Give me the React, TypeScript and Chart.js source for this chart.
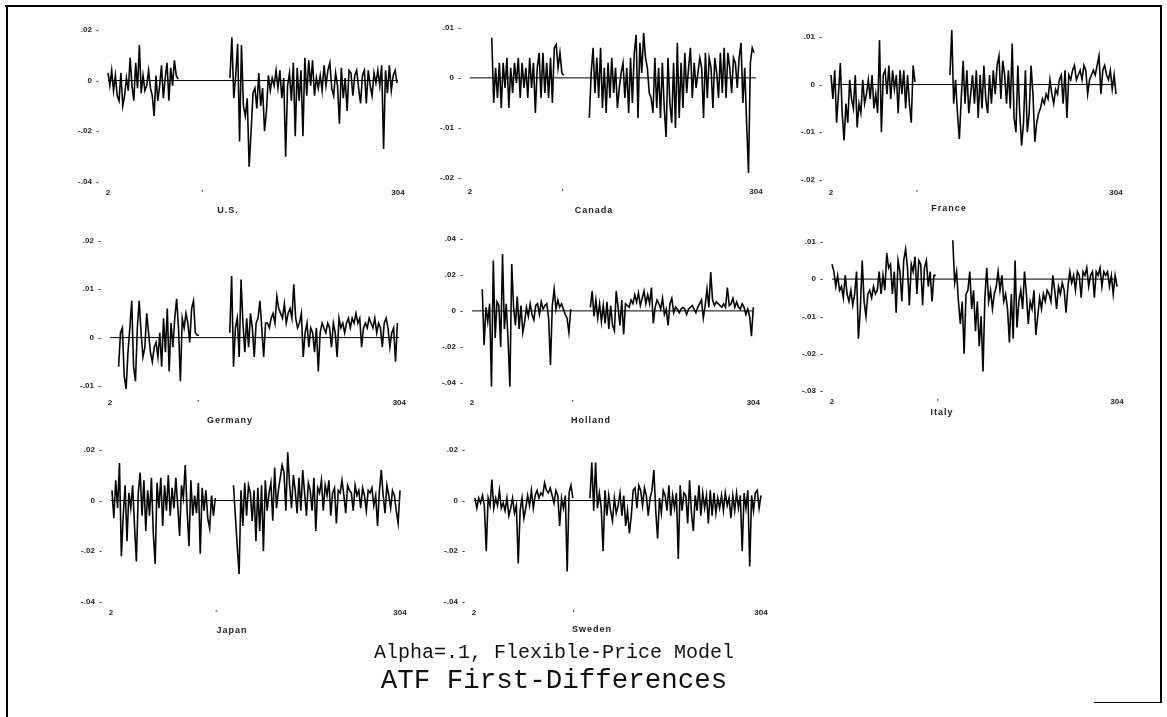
import React, { useEffect, useRef } from "react";
import { Chart, registerables } from "chart.js";

Chart.register(...registerables);

// ---- data ----
const usA = [.003,-.002,.004,-.004,.002,-.006,-.008,.003,-.010,-.006,.001,-.004,.009,-.002,-.008,.007,-.003,.014,-.005,.002,-.004,-.002,.004,-.003,-.006,-.014,.002,-.008,-.002,.006,-.007,.001,.007,-.008,.005,-.002,.008,.002,.0005];
const usB = [.001,.017,-.007,.002,.0145,-.024,.014,-.010,-.014,-.007,-.034,-.020,-.005,-.003,-.011,.003,-.010,-.003,-.020,-.012,.002,-.004,.001,-.002,.004,-.003,.004,-.007,.001,-.030,-.002,.003,-.008,.007,-.022,.005,-.008,.004,-.022,.009,-.006,.008,-.002,.008,-.006,.001,-.003,.002,-.004,.006,-.002,.004,.007,-.003,-.006,.003,-.002,-.017,.005,-.007,.001,-.012,.004,.003,-.006,.002,.004,-.003,-.009,.002,.004,-.009,.004,-.002,-.006,.003,-.001,.004,-.002,.006,-.027,.004,-.005,.006,-.004,.002,.004,-.001];

const canA = [.008,-.005,.002,-.004,.003,-.006,.003,-.002,.004,-.006,.002,-.003,.003,-.001,.004,-.004,.003,-.002,.002,-.004,.004,-.002,.003,-.007,.002,.005,-.004,.005,-.003,.003,-.004,.004,-.005,.006,.0066,.002,.005,.001,.0005];
const canB = [-.008,.001,.006,-.003,.004,-.004,.006,-.006,.002,-.007,.003,-.004,.004,-.003,.002,-.006,-.002,.001,.003,-.004,.002,-.007,.004,-.005,.005,.0086,-.008,.007,.001,.009,.004,.002,-.003,-.004,-.007,.004,-.006,.002,-.008,.003,-.006,-.0118,.004,-.005,-.009,.003,-.010,.007,-.008,.003,-.006,.005,-.003,.002,.006,-.004,.003,-.002,.001,.004,.002,-.008,.005,-.004,.004,.002,-.006,.004,.001,-.004,.005,-.003,.006,-.004,.005,.002,-.003,.004,.003,-.002,.004,.007,-.005,.002,-.009,-.019,.003,.006,.005];

const fraA = [.002,-.003,.003,-.008,-.002,.0045,-.006,-.0117,-.004,-.008,.001,-.003,-.005,.002,-.009,-.004,-.006,.001,-.004,-.002,.001,-.003,.002,-.005,-.002,-.006,.0093,-.010,.002,.003,-.002,.004,-.003,.003,-.001,.002,-.006,.003,-.002,.003,-.005,.002,-.004,-.008,.004,.0005];
const fraB = [.002,.0114,-.004,.001,-.006,-.0114,-.003,.005,-.004,.003,-.006,-.002,.002,-.004,.003,-.007,.002,-.005,.004,-.003,-.006,.002,-.004,.003,-.002,.004,.006,-.003,.005,.002,-.004,.003,-.005,.0086,-.007,-.010,.004,-.006,-.0128,-.008,.003,-.010,-.006,.004,-.002,-.012,-.008,-.006,-.005,-.003,-.004,-.002,-.003,.001,-.002,-.004,-.001,-.002,.001,.002,-.004,.003,-.007,.002,.001,.003,.004,.001,.002,.003,.001,.004,.003,-.002,.001,.002,.003,.002,.004,.006,-.002,.003,.004,.002,.001,.003,-.001,.002,-.002];

const gerA = [-.006,.001,.002,-.008,-.0106,-.003,.002,.0076,-.006,-.009,.002,.0076,.001,-.004,-.002,.005,.001,-.003,-.005,-.002,-.001,-.004,.001,-.006,.004,-.003,.006,-.007,.003,-.002,.004,.008,.002,-.009,.004,.002,.005,.003,-.001,.006,.0076,.001,.0005,.0005];
const gerB = [.001,.0127,-.006,.002,.004,-.004,.012,.003,-.003,.004,-.002,.005,.002,-.004,.003,.004,.0076,.002,-.004,.003,.003,.002,.004,.005,.003,.0085,.006,.005,.004,.007,.003,.005,.006,.004,.011,.004,.002,.003,.005,-.004,.001,.003,-.002,.002,.001,-.003,.002,-.007,.001,.003,.002,.001,.003,.002,-.002,.003,.001,-.004,.004,.002,.003,.001,.003,.004,.002,.004,.003,.005,.003,.004,-.002,.002,.003,.002,.004,.003,.002,.004,.001,.003,.002,-.002,.003,.004,.002,-.002,.001,.002,-.005,.003];

const holA = [.012,-.019,.002,-.006,.004,-.042,.028,-.015,.005,.003,-.020,.0316,-.010,.004,-.016,-.042,.026,.002,-.008,.008,-.010,.003,-.012,-.006,.002,-.003,.004,-.002,-.005,.003,.004,-.002,.005,.001,.003,.004,-.004,-.030,.003,.012,.001,.006,.002,.004,.001,-.002,-.004,-.012,.001];
const holB = [.002,.011,-.003,.006,-.004,.004,-.006,.003,-.007,.005,-.010,.003,-.008,-.011,.011,.002,-.008,.006,-.013,.004,.003,.002,.006,.004,.009,.005,.010,.003,.007,.011,.004,.009,.004,.013,-.007,.002,.006,.004,.001,.007,-.002,.001,-.008,.004,.007,-.001,.002,.001,-.001,.001,.002,.001,-.002,.001,.002,.003,.001,-.001,.002,.004,.006,-.004,.003,.012,.002,.0215,.006,.003,.005,.004,.003,.002,.004,.002,.013,.003,.004,.007,.002,.005,.002,.001,.004,.002,-.002,.001,-.003,-.014,.002];

const itaA = [.004,.002,-.002,.001,-.003,-.002,-.005,.001,-.004,-.006,-.003,-.007,-.004,.002,-.016,-.008,.005,-.006,-.010,-.004,-.003,-.005,-.002,-.004,-.003,.002,-.004,.001,-.003,.007,.003,.004,-.004,.002,-.009,.005,.002,-.006,.005,.008,.003,-.007,.004,.002,.006,-.004,.005,.004,-.007,.003,.005,-.002,.002,-.006,.001,.001];
const itaB = [.0104,-.001,.002,-.006,-.012,-.006,-.020,-.004,-.003,.002,-.008,-.003,-.014,-.006,-.018,-.010,-.0248,-.005,.003,-.006,-.003,-.008,-.004,-.002,.002,-.003,.001,-.006,-.004,-.008,-.017,-.004,-.016,.005,-.013,-.006,-.003,-.008,.002,-.004,-.012,-.006,-.008,-.003,-.015,-.010,-.005,-.008,-.004,-.006,-.003,-.004,-.006,.001,-.003,-.008,-.002,-.004,-.001,-.003,-.009,-.002,.002,-.001,.001,-.003,.002,.001,-.005,.002,.001,.003,-.002,.001,.002,-.005,.002,.001,.003,-.002,.002,.001,.002,-.002,.001,-.004,.001,-.002];

const japA = [.004,-.007,.008,-.003,.0148,-.022,-.006,.006,-.016,.003,-.003,.006,-.010,-.024,.003,.011,-.006,.008,-.012,.004,-.006,.009,-.013,-.025,.007,-.003,.009,-.010,.006,-.004,.010,-.006,.005,-.003,.009,-.002,-.014,.006,.001,.014,-.004,-.018,.008,-.006,.002,-.005,.007,-.021,.005,-.004,.004,-.007,-.011,.002,-.006,.001];
const japB = [.006,-.006,-.018,-.029,.004,-.010,.007,-.006,.006,.003,-.008,.004,-.016,.005,-.012,.006,-.020,.008,-.004,.003,.007,-.008,.013,-.003,.004,.009,.014,.011,-.004,.019,.006,-.003,.010,.004,-.005,.009,-.004,.012,.003,-.006,.007,.004,-.004,.009,-.012,.005,.003,.008,-.004,.006,.002,.008,-.006,.003,.005,-.009,.004,.003,.008,.002,-.005,.006,.004,.003,-.004,.006,.002,.004,-.003,.005,.002,-.004,.004,.003,.005,-.002,.002,-.010,.004,.012,.002,-.005,.006,.002,-.003,.004,.002,-.004,-.009,.004];

const sweA = [.001,-.003,.001,-.001,.002,-.002,-.020,.001,-.002,.0083,-.003,.001,-.002,.004,-.003,-.001,-.004,.001,-.006,-.003,.001,-.005,-.002,-.0248,-.004,.001,-.007,-.003,.002,-.002,.004,-.003,.002,.004,.001,.003,.002,.007,.004,.003,.005,.002,-.001,.004,.002,-.010,.001,-.003,.002,-.028,.003,.006,.001];
const sweB = [.001,.015,-.004,.015,-.003,.003,-.003,-.020,.004,-.006,.002,-.004,-.008,.001,-.005,-.002,.003,-.006,.002,-.010,-.004,-.013,-.006,.004,.005,-.003,.006,.004,-.002,.005,.002,-.006,.001,.004,.012,-.004,-.015,.001,-.005,.004,.002,-.004,.006,-.006,.002,-.003,.003,-.023,.006,-.004,.003,.002,-.009,.008,-.005,-.012,.002,-.004,.006,-.006,.003,-.003,.002,-.009,.004,-.006,.003,-.005,.001,-.003,.002,-.004,.003,-.002,.001,-.007,.002,-.004,.003,-.003,.002,-.020,.003,-.003,.004,-.026,.002,-.004,.003,.004,-.003,.002];

// tick values / labels
const ticksUS = [.02, 0, -.02, -.04];
const ticksCanada = [.01, 0, -.01, -.02];
const ticksFrance = [.01, 0, -.01, -.02];
const ticksGermany = [.02, .01, 0, -.01];
const ticksHolland = [.04, .02, 0, -.02, -.04];
const ticksItaly = [.01, 0, -.01, -.02, -.03];
const ticksJapan = [.02, 0, -.02, -.04];
const ticksSweden = [.02, 0, -.02, -.04];
const xFirst = 2;
const xLast = 304;
const xTickLabels = ["2", "'", "304"];

const panelNames = ["U.S.", "Canada", "France", "Germany", "Holland", "Italy", "Japan", "Sweden"];

// ---- layout (pixels) ----
type Seg = { start: number; end: number; values: number[] };
type Panel = {
  name: string; L: number; R: number; T: number; B: number;
  yTicks: number[]; mid: number; segs: Seg[]; tx: number; ty: number; xPad: number;
};

const panels: Panel[] = [
  { name: panelNames[0], L: 108, R: 398, T: 27.5, B: 182, yTicks: ticksUS, mid: 100, segs: [{ start: 2, end: 75, values: usA }, { start: 129, end: 303, values: usB }], tx: 228, ty: 210, xPad: 6 },
  { name: panelNames[1], L: 470, R: 756, T: 26, B: 178, yTicks: ticksCanada, mid: 100, segs: [{ start: 25, end: 101, values: canA }, { start: 128, end: 302, values: canB }], tx: 594, ty: 210, xPad: 9 },
  { name: panelNames[2], L: 831, R: 1116, T: 35, B: 180, yTicks: ticksFrance, mid: 93, segs: [{ start: 2, end: 91, values: fraA }, { start: 128, end: 304, values: fraB }], tx: 949, ty: 208, xPad: 8 },
  { name: panelNames[3], L: 110, R: 400, T: 239, B: 386, yTicks: ticksGermany, mid: 94, segs: [{ start: 11, end: 95, values: gerA }, { start: 127, end: 302, values: gerB }], tx: 230, ty: 420, xPad: 12 },
  { name: panelNames[4], L: 472, R: 757, T: 237, B: 383, yTicks: ticksHolland, mid: 110, segs: [{ start: 13, end: 108, values: holA }, { start: 129, end: 304, values: holB }], tx: 591, ty: 420, xPad: 15 },
  { name: panelNames[5], L: 832, R: 1117, T: 240, B: 391, yTicks: ticksItaly, mid: 114, segs: [{ start: 2, end: 112, values: itaA }, { start: 130, end: 304, values: itaB }], tx: 942, ty: 412, xPad: 6 },
  { name: panelNames[6], L: 111, R: 400, T: 448, B: 602, yTicks: ticksJapan, mid: 112, segs: [{ start: 3, end: 111, values: japA }, { start: 130, end: 304, values: japB }], tx: 232, ty: 630, xPad: 6 },
  { name: panelNames[7], L: 474, R: 761, T: 447.5, B: 601.5, yTicks: ticksSweden, mid: 107, segs: [{ start: 3, end: 106, values: sweA }, { start: 124, end: 304, values: sweB }], tx: 592, ty: 629, xPad: 6 },
];

const YW = 70;
const PT = 12;
const PR = 18;
const XH = 30;
const tickFont = { family: "'Liberation Sans', Arial, sans-serif", size: 8, weight: "bold" as const };

function fmt(v: number): string {
  if (v === 0) return "0";
  const s = String(Math.abs(v)).replace(/^0/, "");
  return (v < 0 ? "-" : "") + s;
}

function PanelChart({ p }: { p: Panel }) {
  const ref = useRef<HTMLCanvasElement>(null);
  const w = YW + (p.R - p.L) + PR;
  const h = PT + (p.B - p.T) + XH;
  useEffect(() => {
    if (!ref.current) return;
    const xt = [xFirst, p.mid, xLast];
    const datasets: any[] = [
      {
        data: [{ x: xFirst, y: 0 }, { x: xLast, y: 0 }],
        borderColor: "#000", borderWidth: 1, pointRadius: 0, clip: false,
      },
      ...p.segs.map((s) => ({
        data: s.values.map((v, i) => ({ x: s.start + (i * (s.end - s.start)) / (s.values.length - 1), y: v })),
        borderColor: "#050505", borderWidth: 1.6, pointRadius: 0, clip: false, tension: 0,
      })),
    ];
    const chart = new Chart(ref.current, {
      type: "line",
      data: { datasets },
      options: {
        animation: false,
        responsive: false,
        maintainAspectRatio: false,
        events: [],
        layout: { padding: { top: PT, right: PR, left: 0, bottom: 0 } },
        plugins: { legend: { display: false }, tooltip: { enabled: false }, title: { display: false } },
        scales: {
          x: {
            type: "linear", min: xFirst, max: xLast,
            grid: { display: false, drawTicks: false }, border: { display: false },
            afterBuildTicks: (s: any) => { s.ticks = xt.map((v) => ({ value: v })); },
            afterFit: (s: any) => { s.height = XH; },
            ticks: {
              autoSkip: false, maxRotation: 0, padding: p.xPad, color: "#222", font: tickFont,
              callback: (_v: any, i: number) => xTickLabels[i],
            },
          },
          y: {
            type: "linear", min: p.yTicks[p.yTicks.length - 1], max: p.yTicks[0],
            grid: { display: false, drawTicks: false }, border: { display: false },
            afterBuildTicks: (s: any) => { s.ticks = p.yTicks.map((v) => ({ value: v })); },
            afterFit: (s: any) => { s.width = YW; },
            ticks: {
              autoSkip: false, padding: 9, color: "#222", font: tickFont,
              callback: (v: any) => fmt(Number(v)) + "  -",
            },
          },
        },
      } as any,
    });
    return () => chart.destroy();
  }, []);
  return (
    <canvas
      ref={ref}
      width={w}
      height={h}
      style={{ position: "absolute", left: p.L - YW, top: p.T - PT, width: w, height: h }}
    />
  );
}

export default function App() {
  const line = (l: number, t: number, w: number, h: number) => (
    <div style={{ position: "absolute", left: l, top: t, width: w, height: h, background: "#000" }} />
  );
  return (
    <div style={{ position: "absolute", left: 0, top: 0, width: 1167, height: 717, background: "#fff", overflow: "hidden" }}>
      {line(6, 5, 2, 712)}
      {line(5, 5, 1157, 2)}
      {line(1160, 5, 2, 698)}
      {line(1094, 702, 68, 1)}
      {panels.map((p) => (
        <React.Fragment key={p.name}>
          <PanelChart p={p} />
          <div
            style={{
              position: "absolute", left: p.tx, top: p.ty, transform: "translate(-50%, -50%)",
              font: "bold 9px 'Liberation Sans', Arial, sans-serif", letterSpacing: "1px", color: "#222", whiteSpace: "nowrap",
            }}
          >
            {p.name}
          </div>
        </React.Fragment>
      ))}
      <div
        style={{
          position: "absolute", left: 554, top: 652, transform: "translate(-50%, -50%)",
          font: "20px 'Liberation Mono', 'DejaVu Sans Mono', monospace", color: "#111", whiteSpace: "nowrap",
        }}
      >
        Alpha=.1, Flexible-Price Model
      </div>
      <div
        style={{
          position: "absolute", left: 554, top: 680, transform: "translate(-50%, -50%)",
          font: "27.5px 'Liberation Mono', 'DejaVu Sans Mono', monospace", color: "#111", whiteSpace: "nowrap",
        }}
      >
        ATF First-Differences
      </div>
    </div>
  );
}
